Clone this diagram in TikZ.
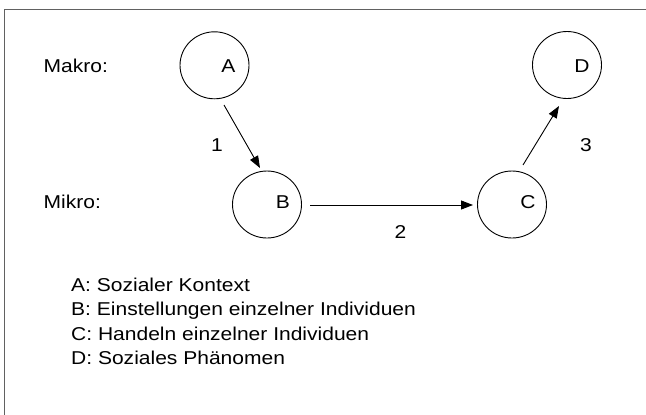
\documentclass[tikz,border=0pt]{standalone}
\usepackage{fontspec}
\setmainfont[FakeStretch=1.13]{Liberation Sans}
\usetikzlibrary{arrows.meta,calc,shapes.geometric}
\begin{document}
\begin{tikzpicture}[x=1pt,y=-1pt,
  ell/.style={draw, line width=0.9pt, ellipse, minimum width=69pt, minimum height=67pt, inner sep=0pt},
  txt/.style={inner sep=0pt, font=\fontsize{18.6pt}{24.3pt}\selectfont},
  arr/.style={line width=0.9pt, -{Triangle[length=12pt,width=9pt]}},
  frameline/.style={draw=black!62, line width=1.3pt}]
\useasboundingbox (0,0) rectangle (646,415);
\coordinate (fbl) at (4.7,415);
\coordinate (ftl) at (4.7,9.7);
\coordinate (ftr) at (646,9.7);
\draw[frameline] (fbl) -- (ftl) -- (ftr);

\node[ell] (A) at (214.5,65.3) {};
\node[ell] (B) at (267,204.5) {};
\node[ell] (C) at (512,204.5) {};
\node[ell] (D) at (567,65) {};

\node[txt,anchor=base] (la) at (228.3,72.7) {A};
\node[txt,anchor=base] (lb) at (283,208.3) {B};
\node[txt,anchor=base] (lc) at (528,208.3) {C};
\node[txt,anchor=base] (ld) at (582,72.7) {D};

\node[txt,anchor=base west] (makro) at (43.5,72.7) {Makro:};
\node[txt,anchor=base west] (mikro) at (43.5,208.3) {Mikro:};

\node[txt,anchor=base] (n1) at (217,151.7) {1};
\node[txt,anchor=base] (n2) at (400.5,238) {2};
\node[txt,anchor=base] (n3) at (586,151.7) {3};

\draw[arr] ($(A)+(9.5,39.7)$) -- ($(B)+(-7,-36.5)$);
\draw[arr] ($(B)+(43,0.5)$) -- ($(C)+(-39,0.5)$);
\draw[arr] ($(C)+(11,-39.5)$) -- ($(D)+(-8,41)$);

\node[txt,anchor=base west] (legA) at (71,291.5) {A: Sozialer Kontext};
\node[txt,anchor=base west] (legB) at (71,315.8) {B: Einstellungen einzelner Individuen};
\node[txt,anchor=base west] (legC) at (71,340.1) {C: Handeln einzelner Individuen};
\node[txt,anchor=base west] (legD) at (71,364.4) {D: Soziales Phänomen};
\end{tikzpicture}
\end{document}
